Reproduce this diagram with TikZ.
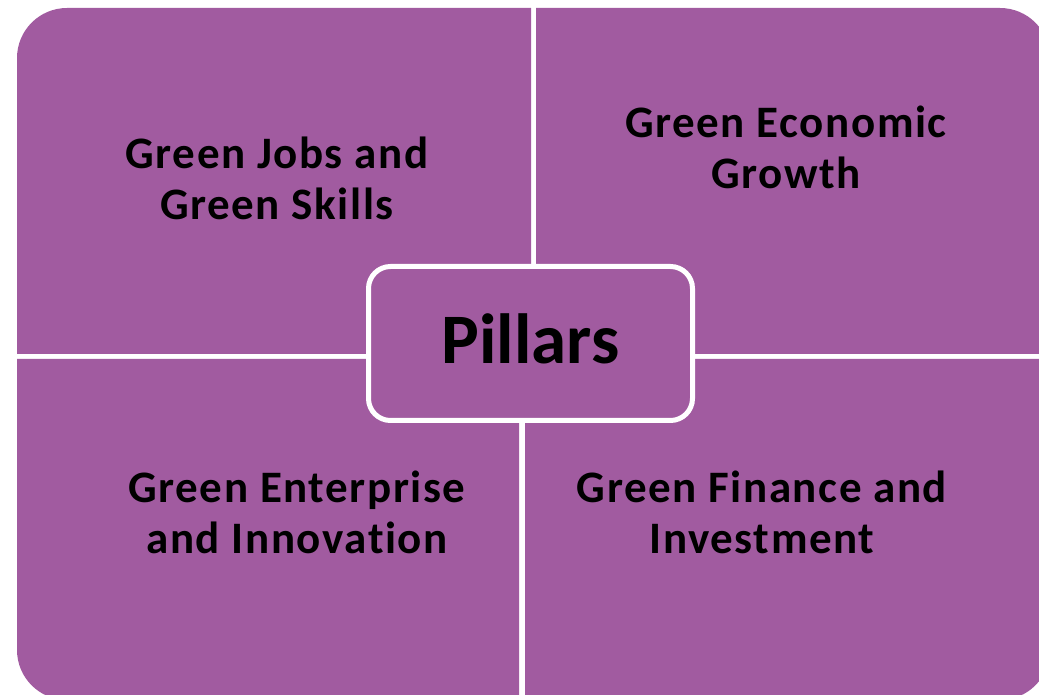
\documentclass[tikz,border=0pt]{standalone}
\usepackage{fontspec}
\setmainfont{Carlito}[Ligatures=NoCommon]
\newfontfamily\labelfont{Carlito}[Ligatures=NoCommon,LetterSpace=3.5]
\definecolor{pillarpurple}{RGB}{161,91,160}
\begin{document}
\begin{tikzpicture}[x=1pt,y=1pt,
  quad/.style={fill=pillarpurple},
  label/.style={font=\labelfont\fontsize{45}{51}\selectfont\bfseries, align=center, text=black, inner sep=0pt},
  hub/.style={fill=pillarpurple, draw=white, line width=5pt, rounded corners=22pt,
    minimum width=324pt, minimum height=154pt, inner sep=0pt, text depth=10pt,
    font=\fontsize{71}{80}\selectfont\bfseries}]
\useasboundingbox (0,0) rectangle (1039,694);
\clip (0,0) rectangle (1039,694);
% quadrants
\fill[quad] (531,340) -- (17,340) -- (17,636) arc[start angle=180,end angle=90,radius=50] -- (531,686) -- cycle;
\fill[quad] (536,340) -- (536,686) -- (1000,686) arc[start angle=90,end angle=0,radius=50] -- (1050,340) -- cycle;
\fill[quad] (519,335) -- (17,335) -- (17,44) arc[start angle=180,end angle=270,radius=50] -- (519,-6) -- cycle;
\fill[quad] (525,335) -- (1050,335) -- (1050,44) arc[start angle=0,end angle=-90,radius=50] -- (525,-6) -- cycle;
% labels
\node[label] (jobs) at (277,516) {Green Jobs and\\Green Skills};
\node[label] (growth) at (786,547) {Green Economic\\Growth};
\node[label] (enterprise) at (297,182) {Green Enterprise\\and Innovation};
\node[label] (finance) at (762,182) {Green Finance and\\Investment};
% hub
\node[hub] (pillars) at (530.5,350.5) {Pillars};
\end{tikzpicture}
\end{document}
